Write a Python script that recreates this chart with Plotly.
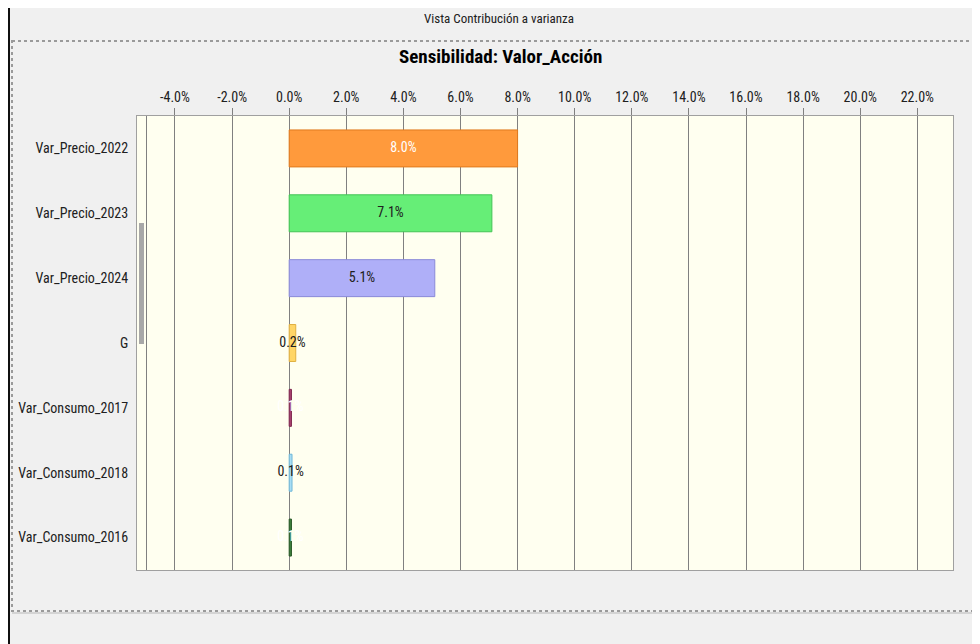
import plotly.graph_objects as go

# Data
factores = ["Var_Precio_2022", "Var_Precio_2023", "Var_Precio_2024", "G",
            "Var_Consumo_2017", "Var_Consumo_2018", "Var_Consumo_2016"]
contribucion = [8.0, 7.1, 5.1, 0.23, 0.08, 0.1, 0.08]
etiquetas = ["8.0%", "7.1%", "5.1%", "0.2%", "0.1%", "0.1%", "0.1%"]
colores = ["#FF9A3C", "#66EE77", "#AFAFF8", "#FFD666", "#A8416E", "#A8DDF4", "#3E7E3C"]
bordes = ["#E07A1E", "#44C455", "#8A8AD8", "#E0B040", "#802A50", "#70B8D8", "#2A5A28"]
colores_texto = ["#FFFFFF", "#202020", "#202020", "#202020", "#FFFFFF", "#202020", "#FFFFFF"]
marcas_x = [-4, -2, 0, 2, 4, 6, 8, 10, 12, 14, 16, 18, 20, 22]

W, H = 980, 644
OFF = 8  # the page body adds 8px around the figure
L, R, T, B = 137 - OFF, 953 - OFF, 116 - OFF, 570 - OFF
FONT = "Roboto Condensed, Arial Narrow, Liberation Sans, Arial"


def px(x):
    # screen pixel -> paper x
    return (x - OFF - L) / (R - L)


def py(y):
    # screen pixel -> paper y
    return (B - (y - OFF)) / (B - T)


fig = go.Figure()

fig.add_trace(go.Bar(
    y=factores, x=contribucion, orientation="h", width=0.57,
    marker=dict(color=colores, line=dict(color=bordes, width=1)),
    hoverinfo="x+y", showlegend=False,
))

# value labels centred on each bar
fig.add_trace(go.Scatter(
    y=factores, x=[v / 2 for v in contribucion], mode="text",
    text=etiquetas, textposition="middle center",
    textfont=dict(family=FONT, size=14, color=colores_texto),
    hoverinfo="skip", showlegend=False,
))

shapes = [
    # window edge on the left
    dict(type="line", xref="paper", yref="paper", x0=px(9), x1=px(9), y0=py(0), y1=py(H + 10),
         line=dict(color="#101010", width=2), layer="below"),
    # dotted group frame
    dict(type="rect", xref="paper", yref="paper", x0=px(12), x1=px(W + 20), y0=py(41), y1=py(611),
         line=dict(color="#9A9A9A", width=2, dash="dot"), layer="below"),
    dict(type="line", xref="paper", yref="paper", x0=px(12), x1=px(W + 20), y0=py(613), y1=py(613),
         line=dict(color="#B8B8B8", width=1), layer="below"),
    # inner left line of the plot
    dict(type="line", xref="paper", yref="paper", x0=px(146.5), x1=px(146.5), y0=0, y1=1,
         line=dict(color="#808080", width=1)),
    # scroll thumb
    dict(type="rect", xref="paper", yref="paper", x0=px(139), x1=px(144), y0=py(223), y1=py(344),
         fillcolor="#A8A8A8", line=dict(width=0)),
]

annotations = [
    dict(text="Vista Contribución a varianza", xref="paper", yref="paper",
         x=px(499), y=py(18), xanchor="center", yanchor="middle", showarrow=False,
         font=dict(family=FONT, size=13, color="#202020")),
    dict(text="<b>Sensibilidad: Valor_Acción</b>", xref="paper", yref="paper",
         x=px(500), y=py(57), xanchor="center", yanchor="middle", showarrow=False,
         font=dict(family=FONT, size=19, color="#000000")),
]

fig.update_layout(
    width=W, height=H, autosize=False,
    margin=dict(l=L, r=W - R, t=T, b=H - B, pad=0),
    paper_bgcolor="#F0F0F0", plot_bgcolor="#FFFFF0",
    font=dict(family=FONT, size=14, color="#202020"),
    shapes=shapes, annotations=annotations,
    xaxis=dict(
        range=[-5.33, 23.25], side="top", automargin=False,
        tickvals=marcas_x, ticktext=[f"{v:.1f}%" for v in marcas_x],
        ticks="outside", ticklen=7, tickcolor="#808080",
        showgrid=True, gridcolor="#808080", gridwidth=1, zeroline=False,
        showline=True, linecolor="#A0A0A0", mirror=True,
        tickfont=dict(family=FONT, size=14, color="#202020"),
    ),
    yaxis=dict(
        categoryorder="array", categoryarray=factores, range=[6.5, -0.5], automargin=False,
        ticks="", ticklabelstandoff=5, showgrid=False, zeroline=False,
        showline=True, linecolor="#A0A0A0", mirror=True,
        tickfont=dict(family=FONT, size=14, color="#202020"),
    ),
)

fig.write_html("out.html")
